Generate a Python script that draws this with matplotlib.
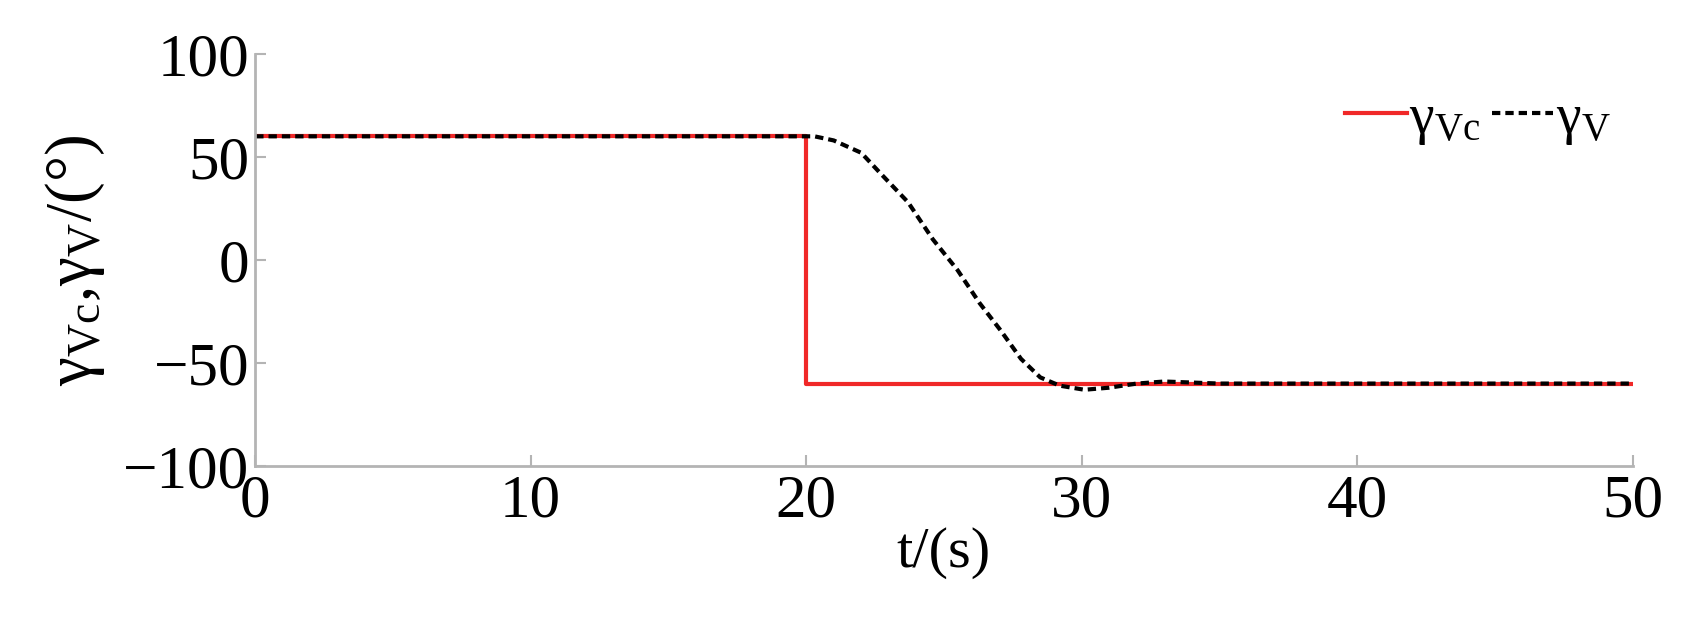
import matplotlib
matplotlib.use('Agg')
from matplotlib import pyplot as plt

plt.rcParams['font.family'] = ['Liberation Serif', 'DejaVu Serif']
plt.rcParams['mathtext.fontset'] = 'custom'
plt.rcParams['mathtext.rm'] = 'Liberation Serif'
plt.rcParams['mathtext.it'] = 'Liberation Serif:italic'

# commanded angle (step at t = 20 s)
t_cmd = [0, 20, 20, 50]
gamma_cmd = [60, 60, -60, -60]

t_act = [0, 20.3, 21, 22, 22.7, 23.7, 24.6, 25.5, 26.3, 27.05, 27.8, 28.5,
         29.2, 30.1, 31, 32, 33, 34, 35, 50]
gamma_act = [60, 60, 58, 52, 42, 28, 10, -5, -21, -34, -48, -57,
             -61, -63, -62, -60, -59, -59.5, -60, -60]

xticks = [0, 10, 20, 30, 40, 50]
yticks = [-100, -50, 0, 50, 100]

fig = plt.figure(figsize=(16.9, 6.34), dpi=100)
ax = fig.add_axes([0.151, 0.265, 0.815, 0.65])

ax.plot(t_cmd, gamma_cmd, color='#f02828', lw=3, label='γ$_{\\mathrm{Vc}}$')
ax.plot(t_act, gamma_act, color='black', lw=3, ls=(0, (2.0, 1.2)),
        label='γ$_{\\mathrm{V}}$')

ax.set_xlim(0, 50)
ax.set_ylim(-100, 100)
ax.set_xticks(xticks)
ax.set_yticks(yticks)

for s in ['top', 'right']:
    ax.spines[s].set_visible(False)
for s in ['left', 'bottom']:
    ax.spines[s].set_color('#b4b4b4')
    ax.spines[s].set_linewidth(2)

ax.tick_params(axis='both', direction='in', length=8, width=1.5,
               color='#b4b4b4', labelsize=44)
ax.tick_params(axis='y', pad=4)
ax.tick_params(axis='x', pad=6)

ax.set_xlabel('t/(s)', fontsize=42, labelpad=-2)
ax.set_ylabel('γ$_{\\mathrm{Vc}}$,γ$_{\\mathrm{V}}$/(°)', fontsize=47, labelpad=12)

ax.legend(loc='upper right', bbox_to_anchor=(1.0, 0.96), frameon=False, ncol=2,
          fontsize=40, handlelength=1.1, handletextpad=0.05, columnspacing=0.2,
          borderaxespad=0)

plt.savefig('out.png', dpi=100)
